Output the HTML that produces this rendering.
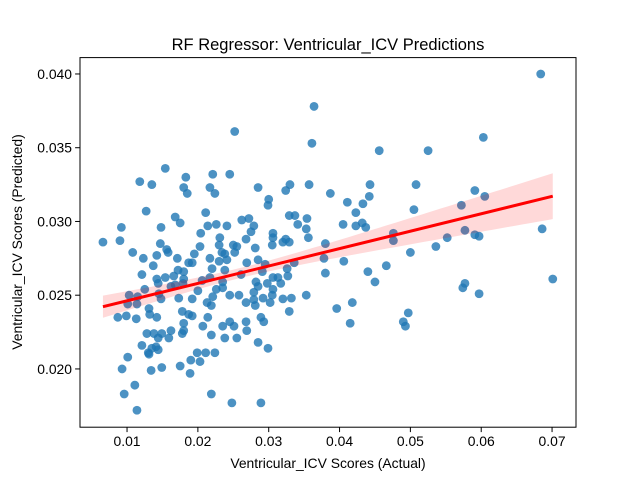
<!DOCTYPE html>
<html><head><meta charset="utf-8"><style>
body{margin:0;background:#fff}
svg{display:block;font-family:"Liberation Sans","DejaVu Sans",sans-serif}
</style></head><body>
<svg id="chart" width="640" height="480" viewBox="0 0 640 480" xmlns="http://www.w3.org/2000/svg">
<rect width="640" height="480" fill="#fff"/>
<text x="328" y="50" text-anchor="middle" font-size="16.5">RF Regressor: Ventricular_ICV Predictions</text>
<g id="points"></g>
<g id="reg"></g>
<g id="axes"></g>
<text x="328" y="468" text-anchor="middle" font-size="13.9">Ventricular_ICV Scores (Actual)</text>
<text transform="translate(22,242) rotate(-90)" text-anchor="middle" font-size="13.9">Ventricular_ICV Scores (Predicted)</text>
</svg>
<script>
const actual=[0.0154,0.0118,0.0135,0.0183,0.0180,0.0185,0.0127,0.0168,0.0175,0.0148,0.0092,0.0066,0.0090,0.0147,0.0108,0.0123,0.0142,0.0156,0.0158,0.0171,0.0195,0.0137,0.0121,0.0142,0.0154,0.0166,0.0172,0.0180,0.0187,0.0180,0.0144,0.0162,0.0168,0.0179,0.0125,0.0103,0.0115,0.0145,0.0148,0.0173,0.0192,0.0101,0.0114,0.0131,0.0132,0.0087,0.0099,0.0113,0.0142,0.0178,0.0187,0.0180,0.0180,0.0162,0.0128,0.0138,0.0149,0.0144,0.0159,0.0178,0.0121,0.0141,0.0135,0.0130,0.0144,0.0131,0.0101,0.0190,0.0093,0.0134,0.0149,0.0175,0.0189,0.0111,0.0096,0.0114,0.0192,0.0192,
0.0364,0.0252,0.0361,0.0221,0.0245,0.0285,0.0217,0.0224,0.0324,0.0330,0.0357,0.0387,0.0300,0.0299,0.0211,0.0262,0.0272,0.0329,0.0337,0.0354,0.0279,0.0241,0.0226,0.0214,0.0341,0.0353,0.0275,0.0306,0.0204,0.0231,0.0356,0.0306,0.0268,0.0324,0.0329,0.0320,0.0230,0.0305,0.0203,0.0281,0.0250,0.0255,0.0234,0.0238,0.0252,0.0217,0.0380,0.0378,0.0241,0.0230,0.0269,0.0285,0.0295,0.0336,0.0220,0.0238,0.0261,0.0291,0.0326,0.0380,0.0217,0.0206,0.0235,0.0282,0.0306,0.0313,0.0327,0.0317,0.0298,0.0285,0.0226,0.0235,0.0200,0.0306,0.0279,0.0245,0.0258,0.0305,0.0292,0.0320,0.0332,0.0353,0.0279,0.0268,0.0281,0.0302,0.0221,0.0213,0.0219,0.0329,0.0396,0.0214,0.0289,0.0293,0.0268,0.0245,0.0251,0.0235,0.0269,0.0207,0.0219,0.0238,0.0255,0.0285,0.0299,0.0199,0.0211,0.0224,0.0203,0.0219,0.0248,0.0289,
0.0684,0.0603,0.0456,0.0525,0.0443,0.0508,0.0442,0.0433,0.0411,0.0591,0.0605,0.0572,0.0505,0.0423,0.0405,0.0423,0.0432,0.0437,0.0476,0.0476,0.0577,0.0591,0.0597,0.0552,0.0686,0.0536,0.0500,0.0406,0.0440,0.0466,0.0450,0.0701,0.0577,0.0574,0.0597,0.0418,0.0415,0.0497,0.0490,0.0493];
const predicted=[0.0336,0.0327,0.0325,0.0330,0.0323,0.0319,0.0307,0.0303,0.0299,0.0296,0.0296,0.0286,0.0287,0.0285,0.0279,0.0275,0.0277,0.0281,0.0279,0.0275,0.0278,0.0270,0.0264,0.0261,0.0262,0.0263,0.0267,0.0266,0.0272,0.0261,0.0258,0.0256,0.0257,0.0258,0.0254,0.0250,0.0249,0.0251,0.02475,0.0248,0.02475,0.0244,0.0244,0.0241,0.0237,0.0235,0.0236,0.0234,0.0235,0.0239,0.0237,0.0231,0.0226,0.0226,0.0224,0.0224,0.0224,0.0221,0.0221,0.0224,0.0216,0.0215,0.0214,0.0211,0.0213,0.0210,0.0208,0.0206,0.0200,0.0199,0.0201,0.0202,0.0197,0.0189,0.0183,0.0172,0.0236,0.0272,
0.0378,0.0361,0.0353,0.0332,0.0332,0.0323,0.0323,0.0319,0.0321,0.0325,0.0325,0.0319,0.0315,0.0311,0.0306,0.0301,0.0302,0.0304,0.0304,0.0302,0.0297,0.0297,0.0298,0.0297,0.0298,0.0295,0.0293,0.0292,0.0292,0.0289,0.0289,0.0289,0.0288,0.0288,0.0286,0.0286,0.0284,0.0284,0.0283,0.0282,0.0284,0.0283,0.0279,0.0278,0.0279,0.0275,0.0285,0.0275,0.0274,0.0273,0.0272,0.0274,0.0271,0.0272,0.0268,0.0267,0.0264,0.0266,0.0268,0.0265,0.0262,0.0260,0.0259,0.0259,0.0262,0.0262,0.0263,0.0258,0.0258,0.0256,0.0254,0.0255,0.0253,0.0254,0.0252,0.0250,0.0250,0.0250,0.0248,0.02475,0.0248,0.0250,0.0247,0.0245,0.0243,0.0245,0.0249,0.0245,0.0243,0.0239,0.0241,0.0235,0.0235,0.0232,0.0232,0.0232,0.0229,0.0229,0.0226,0.0229,0.0223,0.0221,0.0221,0.0218,0.0214,0.0211,0.0211,0.0211,0.0205,0.0183,0.0177,0.0177,
0.0400,0.0357,0.0348,0.0348,0.0325,0.0325,0.0317,0.0312,0.0313,0.0321,0.0317,0.0311,0.0308,0.0306,0.0298,0.0297,0.0299,0.0296,0.0292,0.0287,0.0294,0.0291,0.0290,0.0289,0.0295,0.0283,0.0279,0.0273,0.0266,0.0270,0.0259,0.0261,0.0258,0.0255,0.0251,0.0245,0.0231,0.0238,0.0232,0.0229];
const regCoef=[0.02344,0.118];      // intercept, slope
const ciParams=[0.026,0.00034,0.0344]; // mean x, half-width at mean, growth
const xTicks=[0.01,0.02,0.03,0.04,0.05,0.06,0.07];
const xTickLabels=["0.01","0.02","0.03","0.04","0.05","0.06","0.07"];
const yTicks=[0.020,0.025,0.030,0.035,0.040];
const yTickLabels=["0.020","0.025","0.030","0.035","0.040"];

const NS="http://www.w3.org/2000/svg";
const L=80,T=57.6,W=496,H=369.6;
const xmin=0.00336,xmax=0.07338,ymin=0.01605,ymax=0.04111;
const sx=v=>L+(v-xmin)/(xmax-xmin)*W;
const sy=v=>T+H-(v-ymin)/(ymax-ymin)*H;
function mk(tag,attrs,parent){const e=document.createElementNS(NS,tag);for(const k in attrs)e.setAttribute(k,attrs[k]);parent.appendChild(e);return e;}

const pg=document.getElementById('points');
actual.forEach((a,i)=>{
  const c=mk('circle',{cx:sx(a),cy:sy(predicted[i]),r:4.4,fill:'#1f77b4','fill-opacity':0.8},pg);
  
  
});

const rg=document.getElementById('reg');
const x0=Math.min(...actual),x1=Math.max(...actual);
const fit=x=>regCoef[0]+regCoef[1]*x;
const hw=x=>Math.sqrt(ciParams[1]**2+(ciParams[2]*(x-ciParams[0]))**2);
let up=[],dn=[];
for(let k=0;k<=60;k++){const x=x0+(x1-x0)*k/60;up.push(sx(x)+','+sy(fit(x)+hw(x)));dn.unshift(sx(x)+','+sy(fit(x)-hw(x)));}
const band=mk('polygon',{points:up.concat(dn).join(' '),fill:'#ff0000','fill-opacity':0.15,stroke:'none'},rg);


const line=mk('line',{x1:sx(x0),y1:sy(fit(x0)),x2:sx(x1),y2:sy(fit(x1)),stroke:'#ff0000','stroke-width':3},rg);



const ax=document.getElementById('axes');
const fr=mk('rect',{x:L,y:T,width:W,height:H,fill:'none',stroke:'#000','stroke-width':1},ax);


xTicks.forEach((t,i)=>{
  const x=sx(t);
  const tk=mk('line',{x1:x,y1:T+H,x2:x,y2:T+H+4.9,stroke:'#000'},ax);
  
  
  const tx=mk('text',{x:x,y:T+H+19,'text-anchor':'middle','font-size':13.9},ax);
  tx.textContent=xTickLabels[i];
  
  
});
yTicks.forEach((t,i)=>{
  const y=sy(t);
  const tk=mk('line',{x1:L-4.9,y1:y,x2:L,y2:y,stroke:'#000'},ax);
  
  
  const tx=mk('text',{x:L-8,y:y+5,'text-anchor':'end','font-size':13.9},ax);
  tx.textContent=yTickLabels[i];
  
  
});
</script>
</body></html>
